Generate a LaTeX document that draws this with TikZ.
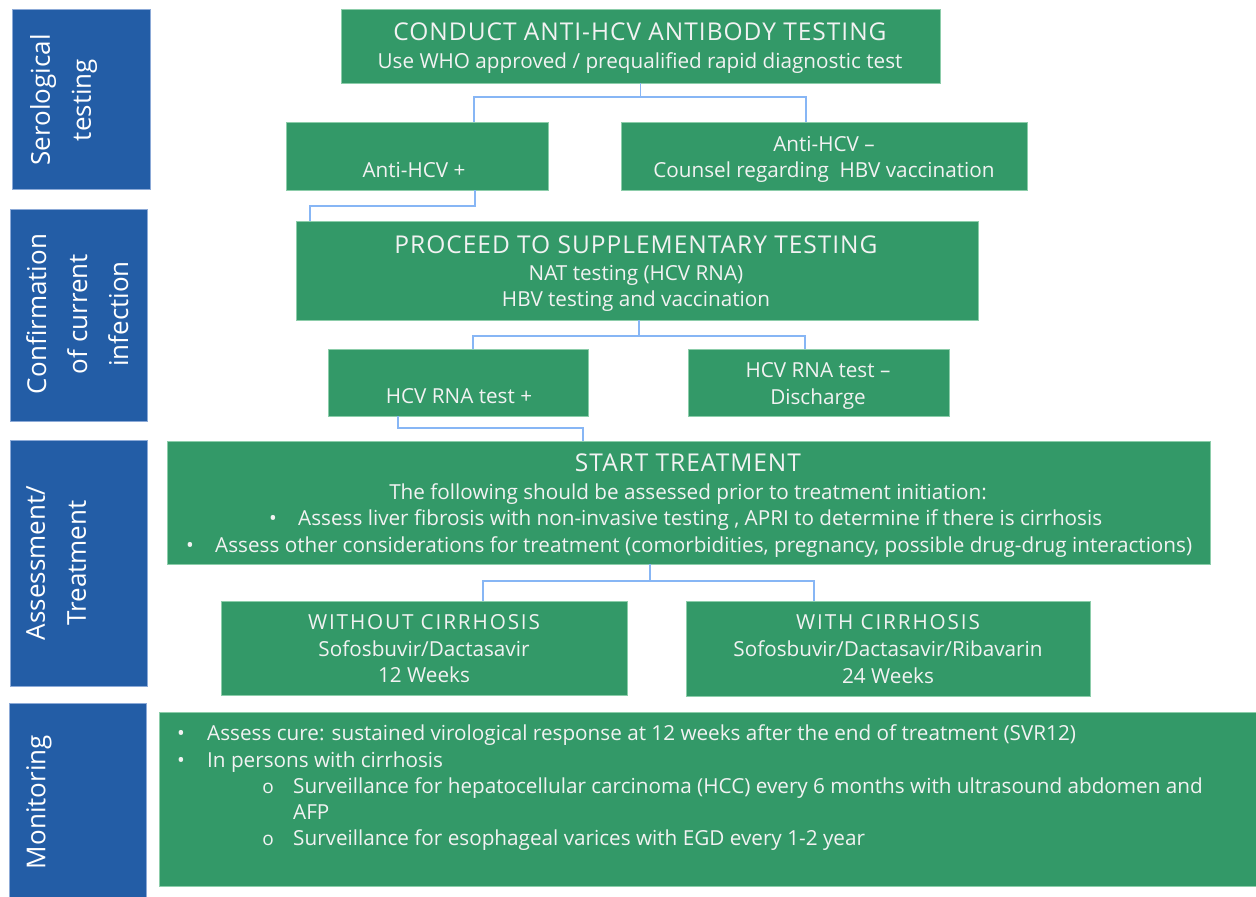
\documentclass[tikz,border=0pt]{standalone}
\usepackage{fontspec}
\setmainfont{Open Sans}
\newfontfamily\sidefont{Open Sans}
\newfontfamily\titlefont[LetterSpace=4]{Open Sans}
\newfontfamily\capsfont[LetterSpace=9]{Open Sans}
\usetikzlibrary{fit}
\definecolor{boxgreen}{RGB}{51,153,104}
\definecolor{greenedge}{RGB}{140,205,170}
\definecolor{sideblue}{RGB}{35,93,166}
\definecolor{blueedge}{RGB}{140,170,215}
\definecolor{linkblue}{RGB}{135,182,245}
\definecolor{paper}{RGB}{242,242,242}
\newcommand{\dotmark}{•}
\newcommand{\ringmark}{{\fontsize{19}{19}\selectfont o}}
\begin{document}
\begin{tikzpicture}[x=1pt,y=-1pt,
  gbox/.style={draw=greenedge, line width=0.8pt, fill=boxgreen, inner sep=0pt},
  sidebox/.style={draw=blueedge, line width=0.8pt, fill=sideblue, inner sep=0pt},
  link/.style={draw=linkblue, line width=1.6pt},
  body/.style={text=paper, inner sep=0pt, anchor=base, font=\fontsize{20.7}{26}\selectfont},
  bodyl/.style={body, anchor=base west},
  capsline/.style={body, font=\capsfont\fontsize{20.7}{26}\selectfont},
  head/.style={text=paper, inner sep=0pt, anchor=base, font=\titlefont\fontsize{24.5}{28}\selectfont},
  side/.style={text=white, inner sep=0pt, rotate=90, anchor=north, align=center,
    font=\sidefont\fontsize{26}{41}\selectfont},
]
\useasboundingbox (0,0) rectangle (1256,897);
\fill[white] (0,0) rectangle (1256,897);

% stage column
\node[sidebox, fit={(12,9) (150,189)}] (serobox) {};
\node[sidebox, fit={(10,209) (147,421)}] (confbox) {};
\node[sidebox, fit={(10,440) (147,686)}] (assessbox) {};
\node[sidebox, fit={(9,703) (146,905)}] (monbox) {};
\node[side] (serolab) at (30,100) {Serological\\testing};
\node[side] (conflab) at (26,314) {Confirmation\\of current\\infection};
\node[side] (assesslab) at (26,563) {Assessment/\\Treatment};
\node[side] (monlab) at (26,802) {Monitoring};

% flow boxes
\node[gbox, fit={(341,9) (940,83)}] (conduct) {};
\node[gbox, fit={(286,122) (548,190)}] (antipos) {};
\node[gbox, fit={(621,122) (1027,190)}] (antineg) {};
\node[gbox, fit={(296,221) (978,320)}] (supp) {};
\node[gbox, fit={(328,349) (588,416)}] (rnapos) {};
\node[gbox, fit={(688,349) (949,416)}] (rnaneg) {};
\node[gbox, fit={(167,441) (1210,564)}] (start) {};
\node[gbox, fit={(221,601) (627,695)}] (nocirr) {};
\node[gbox, fit={(686,601) (1090,696)}] (cirr) {};
\node[gbox, fit={(159,712) (1258,886)}] (monitor) {};

% texts
\node[head] (t1) at (640,40) {CONDUCT ANTI-HCV ANTIBODY TESTING};
\node[body] (t2) at (640,68) {Use WHO approved / prequalified rapid diagnostic test};
\node[body] (t3) at (414,177) {Anti-HCV +};
\node[body] (t4) at (824,151) {Anti-HCV --};
\node[body] (t5) at (824,177) {Counsel regarding\ \ HBV vaccination};
\node[head] (t6) at (636,253) {PROCEED TO SUPPLEMENTARY TESTING};
\node[body] (t7) at (636,280) {NAT testing (HCV RNA)};
\node[body] (t8) at (636,306) {HBV testing and vaccination};
\node[body] (t9) at (459,403) {HCV RNA test +};
\node[body] (t10) at (818,377) {HCV RNA test --};
\node[body] (t11) at (818,404) {Discharge};
\node[head] (t12) at (688,471) {START TREATMENT};
\node[body] (t13) at (688,499) {The following should be assessed prior to treatment initiation:};
\node[body] (b1) at (273,525) {\dotmark};
\node[bodyl] (t14) at (298,525) {Assess liver fibrosis with non-invasive testing , APRI to determine if there is cirrhosis};
\node[body] (b2) at (190,552) {\dotmark};
\node[bodyl] (t15) at (215,552) {Assess other considerations for treatment (comorbidities, pregnancy, possible drug-drug interactions)};
\node[capsline] (t16) at (424,629) {WITHOUT CIRRHOSIS};
\node[body] (t17) at (424,656) {Sofosbuvir/Dactasavir};
\node[body] (t18) at (424,682) {12 Weeks};
\node[capsline] (t19) at (888,629) {WITH CIRRHOSIS};
\node[body] (t20) at (888,656) {Sofosbuvir/Dactasavir/Ribavarin};
\node[body] (t21) at (888,683) {24 Weeks};
\node[body] (b3) at (181,740) {\dotmark};
\node[bodyl] (t22) at (207,740) {Assess cure: sustained virological response at 12 weeks after\ the end of treatment (SVR12)};
\node[body] (b4) at (181,767) {\dotmark};
\node[bodyl] (t23) at (207,767) {In persons with cirrhosis};
\node[body] (b5) at (268,793) {\ringmark};
\node[bodyl] (t24) at (293,793) {Surveillance for hepatocellular carcinoma (HCC) every\ 6 months with ultrasound abdomen and};
\node[bodyl] (t25) at (293,819) {AFP};
\node[body] (b6) at (268,845) {\ringmark};
\node[bodyl] (t26) at (293,845) {Surveillance for esophageal varices with EGD every\ 1-2 year};

% connectors
\coordinate (j1) at (640.5,97);
\coordinate (e1l) at (474,122);
\coordinate (e1r) at (806,122);
\draw[link] (conduct.south) -- (j1);
\draw[link] (e1l) |- (j1) -| (e1r);

\coordinate (s2) at (475,190);
\coordinate (e2) at (310,221);
\draw[link] (s2) -- ++(0,16) -| (e2);

\coordinate (s3) at (639,320);
\coordinate (j3) at (639,336);
\coordinate (e3l) at (473,349);
\coordinate (e3r) at (805,349);
\draw[link] (s3) -- (j3);
\draw[link] (e3l) |- (j3) -| (e3r);

\coordinate (s4) at (398,416);
\coordinate (e4) at (583,441);
\draw[link] (s4) -- ++(0,12) -| (e4);

\coordinate (s5) at (650,564);
\coordinate (j5) at (650,581);
\coordinate (e5l) at (483,601);
\coordinate (e5r) at (814,601);
\draw[link] (s5) -- (j5);
\draw[link] (e5l) |- (j5) -| (e5r);
\end{tikzpicture}
\end{document}
